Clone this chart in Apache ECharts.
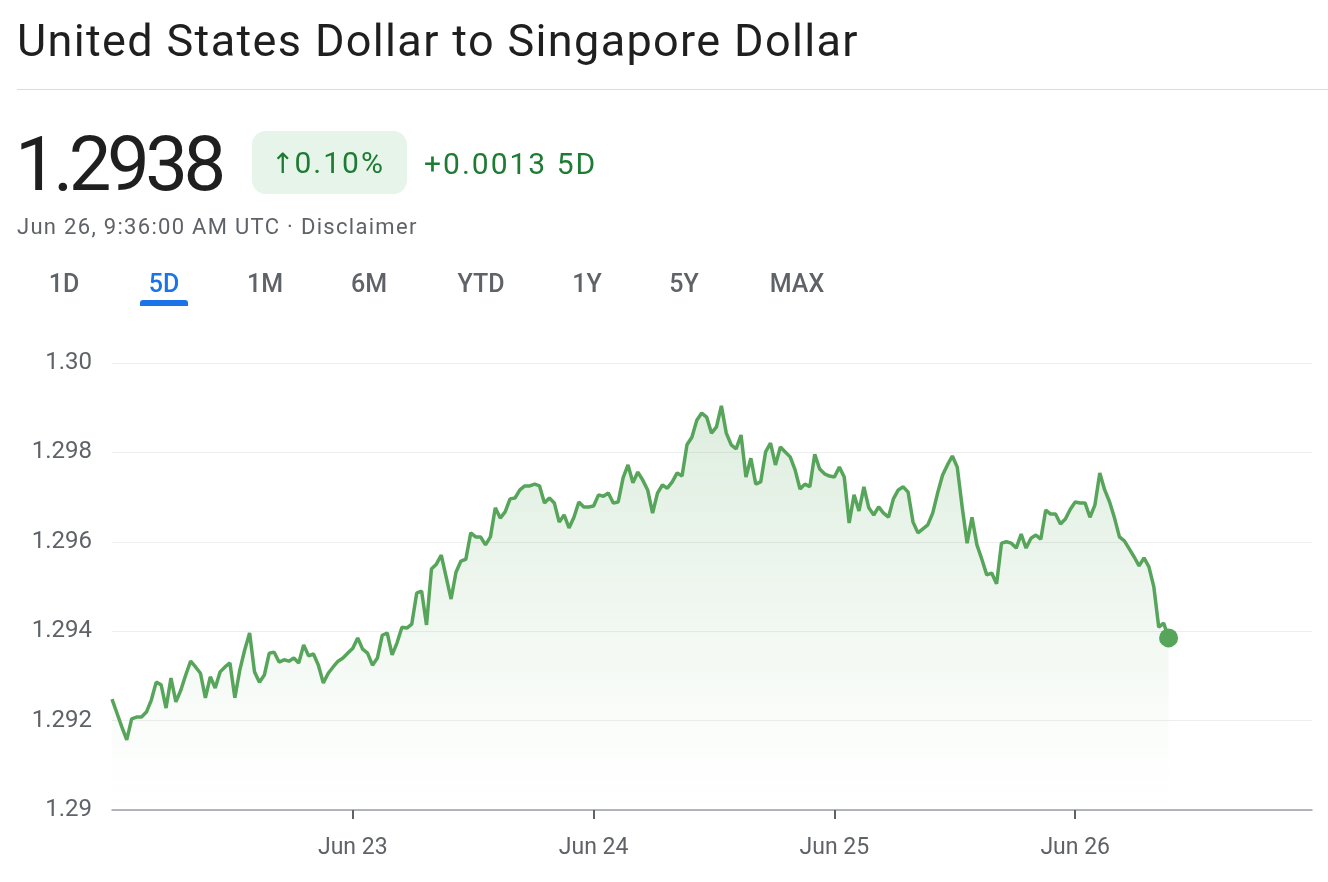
<!DOCTYPE html>
<html>
<head>
<meta charset="utf-8">
<script src="https://cdn.jsdelivr.net/npm/echarts@6/dist/echarts.min.js"></script>
<style>
  html, body { margin: 0; padding: 0; background: #fff; }
  body { width: 1328px; height: 882px; position: relative; overflow: hidden; font-family: Roboto, "Noto Sans", sans-serif; }
  #chart { position: absolute; left: 0; top: 0; width: 1328px; height: 882px; }
  .abs { position: absolute; white-space: nowrap; line-height: 1; }
  #title { left: 17px; top: 18px; font-size: 45px; color: #1f1f1f; letter-spacing: 1.35px; }
  #rule { left: 17px; top: 89px; width: 1311px; height: 1px; background: #dadce0; }
  #price { left: 15px; top: 126px; font-size: 76px; color: #1f1f1f; letter-spacing: -4.5px; }
  #badge { left: 252px; top: 131px; width: 155px; height: 63px; border-radius: 14px; background: #e6f4ea; }
  #pct { left: 271px; top: 148px; font-size: 30px; color: #1e7b34; letter-spacing: 2px; }
  #pct .arr { font-family: "DejaVu Sans", sans-serif; font-size: 28px; letter-spacing: 0; }
  #chg { left: 424px; top: 149px; font-size: 30px; color: #1e7b34; letter-spacing: 2px; }
  #stamp { left: 17px; top: 216px; font-size: 22px; color: #5f6368; letter-spacing: 1.3px; }
  .tab { top: 271px; font-size: 25px; color: #5f6368; font-weight: 500; transform: translateX(-50%); }
  .tab.on { color: #1a73e8; }
  #bar { left: 140px; top: 300px; width: 48px; height: 6px; border-radius: 3px 3px 0 0; background: #1a73e8; }
</style>
</head>
<body>
<div id="chart"></div>
<div class="abs" id="title">United States Dollar to Singapore Dollar</div>
<div class="abs" id="rule"></div>
<div class="abs" id="price">1.2938</div>
<div class="abs" id="badge"></div>
<div class="abs" id="pct"><span class="arr">↑</span>0.10%</div>
<div class="abs" id="chg">+0.0013 5D</div>
<div class="abs" id="stamp">Jun 26, 9:36:00 AM UTC · Disclaimer</div>
<div id="tabs"></div>
<div class="abs" id="bar"></div>
<script>
// range tabs and where their centres sit
const tabNames = ["1D", "5D", "1M", "6M", "YTD", "1Y", "5Y", "MAX"];
const tabCenters = [64, 164, 265, 369, 481, 587, 684, 797];
const activeTab = "5D";

// x axis: hours since Jun 22 00:00 UTC, one point about every half hour
const stepHours = 24 / 49;
const axisMaxHours = 119.6;
const dayHours = [24, 48, 72, 96];
const dayLabels = ["Jun 23", "Jun 24", "Jun 25", "Jun 26"];

// y axis
const yMin = 1.29;
const yMax = 1.30;
const yStep = 0.002;

// USD/SGD quotes
const rates = [
  1.29248, 1.29217, 1.29186, 1.29157, 1.29204, 1.29208, 1.29208, 1.29219, 1.29246, 1.29286,
  1.29280, 1.29228, 1.29295, 1.29242, 1.29268, 1.29302, 1.29333, 1.29320, 1.29306, 1.29251,
  1.29298, 1.29273, 1.29309, 1.29320, 1.29329, 1.29251, 1.29313, 1.29358, 1.29396, 1.29309,
  1.29286, 1.29302, 1.29351, 1.29353, 1.29331, 1.29336, 1.29333, 1.29340, 1.29329, 1.29369,
  1.29345, 1.29349, 1.29324, 1.29284, 1.29306, 1.29320, 1.29333, 1.29340, 1.29351, 1.29362,
  1.29385, 1.29360, 1.29351, 1.29324, 1.29340, 1.29391, 1.29396, 1.29347, 1.29374, 1.29409,
  1.29407, 1.29416, 1.29485, 1.29490, 1.29414, 1.29539, 1.29550, 1.29570, 1.29521, 1.29472,
  1.29532, 1.29557, 1.29561, 1.29620, 1.29611, 1.29611, 1.29593, 1.29611, 1.29676, 1.29653,
  1.29667, 1.29696, 1.29698, 1.29716, 1.29725, 1.29725, 1.29729, 1.29725, 1.29687, 1.29698,
  1.29687, 1.29644, 1.29660, 1.29631, 1.29655, 1.29689, 1.29678, 1.29678, 1.29680, 1.29705,
  1.29702, 1.29709, 1.29687, 1.29689, 1.29743, 1.29772, 1.29732, 1.29756, 1.29738, 1.29716,
  1.29664, 1.29709, 1.29727, 1.29720, 1.29734, 1.29754, 1.29747, 1.29817, 1.29834, 1.29872,
  1.29888, 1.29879, 1.29843, 1.29857, 1.29904, 1.29843, 1.29817, 1.29808, 1.29839, 1.29745,
  1.29787, 1.29729, 1.29734, 1.29801, 1.29821, 1.29772, 1.29812, 1.29801, 1.29790, 1.29761,
  1.29718, 1.29729, 1.29723, 1.29796, 1.29763, 1.29752, 1.29747, 1.29745, 1.29767, 1.29745,
  1.29642, 1.29705, 1.29669, 1.29723, 1.29676, 1.29660, 1.29678, 1.29664, 1.29655, 1.29696,
  1.29716, 1.29723, 1.29711, 1.29644, 1.29620, 1.29629, 1.29638, 1.29664, 1.29709, 1.29749,
  1.29772, 1.29792, 1.29767, 1.29678, 1.29597, 1.29655, 1.29593, 1.29561, 1.29526, 1.29530,
  1.29506, 1.29597, 1.29600, 1.29597, 1.29586, 1.29617, 1.29586, 1.29608, 1.29615, 1.29606,
  1.29671, 1.29662, 1.29662, 1.29640, 1.29651, 1.29673, 1.29689, 1.29687, 1.29687, 1.29655,
  1.29682, 1.29754, 1.29716, 1.29689, 1.29653, 1.29611, 1.29602, 1.29584, 1.29566, 1.29546,
  1.29564, 1.29544, 1.29499, 1.29409, 1.29418, 1.29385
];

const green = "#57a55b";
const grey = "#5f6368";

// header tabs
const tabsEl = document.getElementById("tabs");
tabNames.forEach((name, i) => {
  const el = document.createElement("div");
  el.className = "abs tab" + (name === activeTab ? " on" : "");
  el.style.left = tabCenters[i] + "px";
  el.textContent = name;
  tabsEl.appendChild(el);
});

const points = rates.map((v, i) => [i * stepHours, v]);
const lastPoint = points[points.length - 1];

const chart = echarts.init(document.getElementById("chart"), null, { renderer: "canvas" });

chart.setOption({
  animation: false,
  grid: { left: 112, right: 16, top: 363, bottom: 72 },
  xAxis: {
    type: "value",
    min: 0,
    max: axisMaxHours,
    axisLine: { show: true, lineStyle: { color: "#9aa0a6", width: 1.5 } },
    axisTick: {
      show: true,
      customValues: dayHours,
      length: 9,
      lineStyle: { color: grey, width: 2 }
    },
    axisLabel: {
      customValues: dayHours,
      formatter: (v) => dayLabels[dayHours.indexOf(Math.round(v))] || "",
      color: grey,
      fontFamily: "Roboto",
      fontSize: 23,
      margin: 27
    },
    splitLine: { show: false }
  },
  yAxis: {
    type: "value",
    min: yMin,
    max: yMax,
    interval: yStep,
    axisLine: { show: false },
    axisTick: { show: false },
    axisLabel: {
      formatter: (v) => {
        const r = Math.round(v * 1000) / 1000;
        return (Math.abs(r - yMin) < 1e-9 || Math.abs(r - yMax) < 1e-9) ? r.toFixed(2) : r.toFixed(3);
      },
      color: grey,
      fontFamily: "Roboto",
      fontSize: 24,
      margin: 20
    },
    splitLine: { lineStyle: { color: "#eeeeee", width: 1 } }
  },
  series: [
    {
      type: "line",
      data: points,
      showSymbol: false,
      lineStyle: { color: green, width: 3.5 },
      areaStyle: {
        color: new echarts.graphic.LinearGradient(0, 0, 0, 1, [
          { offset: 0, color: "rgba(87,165,91,0.28)" },
          { offset: 0.8, color: "rgba(87,165,91,0.04)" },
          { offset: 1, color: "rgba(87,165,91,0)" }
        ])
      },
      z: 2
    },
    {
      type: "scatter",
      data: [lastPoint],
      symbolSize: 19,
      itemStyle: { color: green, opacity: 1 },
      z: 3
    }
  ]
});
</script>
</body>
</html>
